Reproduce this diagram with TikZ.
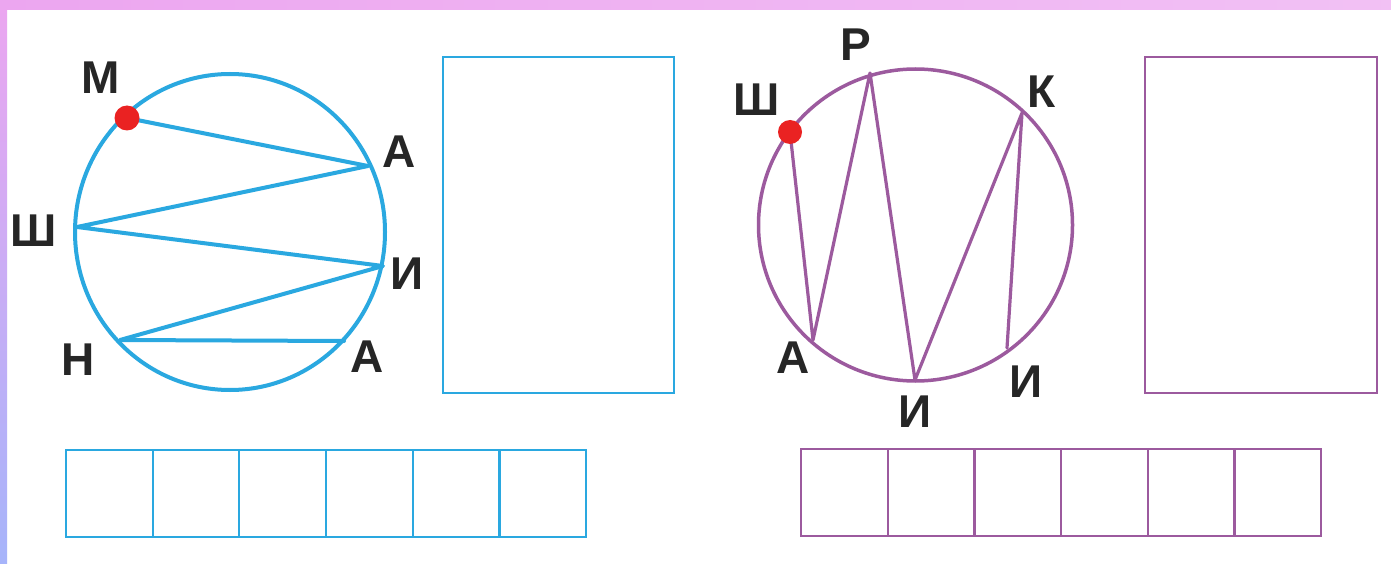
\documentclass[tikz,border=0pt]{standalone}
\usepackage{fontspec}
\setmainfont{Liberation Sans}
\definecolor{cblue}{RGB}{42,168,224}
\definecolor{cpurp}{RGB}{156,90,158}
\definecolor{cdot}{RGB}{234,34,34}
\definecolor{bandpink}{RGB}{236,166,240}
\definecolor{bandblue}{RGB}{166,180,250}
\begin{document}
\begin{tikzpicture}[x=1pt,y=-1pt,
  lbl/.style={inner sep=0pt,font=\fontsize{46}{46}\selectfont\bfseries,text=black!85},
  bchord/.style={draw=cblue,line width=4pt,line cap=round,line join=round},
  pchord/.style={draw=cpurp,line width=3.2pt,line cap=round,line join=round},
  reddot/.style={fill=cdot,draw=none}]
\useasboundingbox (0,0) rectangle (1391,564);
\fill[white] (0,0) rectangle (1391,564);
% decorative border
\shade[top color=bandpink,bottom color=bandblue] (0,0) rectangle (7,564);
\shade[left color=bandpink,right color=bandpink!70!white] (0,0) rectangle (1391,10);

% ===== left puzzle (blue) =====
\draw[cblue,line width=4pt] (230,232) ellipse [x radius=155pt,y radius=158pt];
\coordinate (m) at (127,118);
\coordinate (a1) at (368,166);
\coordinate (sh) at (77,227);
\coordinate (i1) at (383,266);
\coordinate (n) at (120,340);
\coordinate (a2) at (344,341);
\draw[bchord] (m) -- (a1) -- (sh) -- (i1) -- (n) -- (a2);
\fill[reddot] (m) circle (12.5pt);
\node[lbl] (lm) at (101,78) {М};
\node[lbl] (la1) at (399,152) {А};
\node[lbl] (lsh) at (34,231) {Ш};
\node[lbl] (li1) at (407,274) {И};
\node[lbl] (ln) at (78,360) {Н};
\node[lbl] (la2) at (367,357) {А};
\draw[cblue,line width=2.3pt] (443,57) rectangle (674,393);
\foreach \k in {0,...,5}{
  \draw[cblue,line width=2.3pt] ({66+86.67*\k},450) rectangle ({66+86.67*(\k+1)},537);
}

% ===== right puzzle (purple) =====
\draw[cpurp,line width=3.5pt] (915.5,225) ellipse [x radius=157pt,y radius=156pt];
\coordinate (sh2) at (790,132);
\coordinate (r) at (870,73);
\coordinate (k) at (1022,113);
\coordinate (a3) at (813,340);
\coordinate (i2) at (915,380);
\coordinate (i3) at (1007,348);
\draw[pchord] (sh2) -- (a3) -- (r) -- (i2) -- (k) -- (i3);
\fill[reddot] (sh2) circle (12pt);
\node[lbl] (lsh2) at (757,100) {Ш};
\node[lbl] (lr) at (856,45) {Р};
\node[lbl] (lk) at (1042,92) {К};
\node[lbl] (la3) at (793,358) {А};
\node[lbl] (li2) at (915,412) {И};
\node[lbl] (li3) at (1026,382) {И};
\draw[cpurp,line width=2.3pt] (1145,57) rectangle (1377,393);
\foreach \k in {0,...,5}{
  \draw[cpurp,line width=2.3pt] ({801+86.67*\k},449) rectangle ({801+86.67*(\k+1)},536);
}
\end{tikzpicture}
\end{document}
